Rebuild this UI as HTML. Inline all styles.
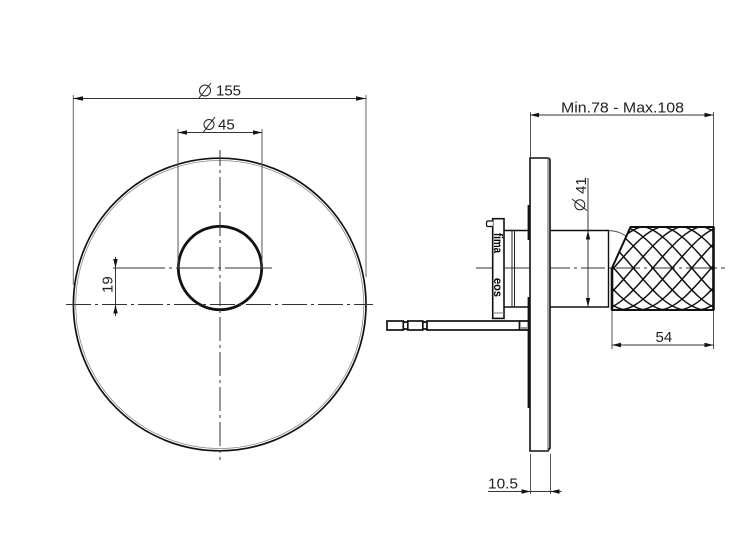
<!DOCTYPE html>
<html><head><meta charset="utf-8"><style>
html,body{margin:0;padding:0;background:#fff}
svg{display:block}
text{font-family:"Liberation Sans",sans-serif;font-size:15px;fill:#222}
</style></head><body>
<svg width="740" height="559" viewBox="0 0 740 559" xmlns="http://www.w3.org/2000/svg">
<defs><clipPath id="k"><path d="M612,268L630.5,227H713.5V310H612Z"/></clipPath></defs>
<rect width="740" height="559" fill="#fff"/>
<!-- front view -->
<circle cx="219.7" cy="304.5" r="146.3" fill="none" stroke="#111" stroke-width="1.7"/>
<circle cx="219.7" cy="304.5" r="144" fill="none" stroke="#888" stroke-width=".8"/>
<circle cx="220" cy="268" r="41.7" fill="none" stroke="#111" stroke-width="2.8"/>
<g fill="none" stroke="#333" stroke-width="1">
<path d="M220,150V460" stroke-dasharray="24 4 3 4" stroke-dashoffset="8"/>
<path d="M66,304.5H373" stroke-dasharray="25 4 3 4"/>
<path d="M113,268H272" stroke-dasharray="52 4 3 4 38 4 3 4 60"/>
<path d="M73.3,95V285M366,95V277" stroke="#666"/>
<path d="M73,98.5H366"/>
<path d="M178,129V268M262,129V268" stroke="#555"/>
<path d="M178,132.5H262"/>
<path d="M115.5,257V316"/>
<!-- side dims -->
<path d="M530.5,112V157M713.5,112V226" stroke="#555"/>
<path d="M530,115H713.5"/>
<path d="M588,178V307"/>
<path d="M612,310V349M713.5,310V349" stroke="#555"/>
<path d="M612,345H713.5"/>
<path d="M530.5,454V494M550.5,454V494" stroke="#555"/>
<path d="M488,491.5H561.5"/>
<path d="M476,268H725" stroke-dasharray="24 4 3 4"/>
</g>
<g fill="#111">
<path d="M73,98.5l10,-2.2v4.400zM366,98.5l-10,-2.2v4.400z"/>
<path d="M178,132.5l9,-2.2v4.400zM262,132.5l-9,-2.2v4.400z"/>
<path d="M115.5,268l-2.2,-9h4.400zM115.5,304.5l-2.2,9h4.400z"/>
<path d="M530,115l9,-2.2v4.400zM713.5,115l-9,-2.2v4.400z"/>
<path d="M588,230.5l-2.2,9h4.400zM588,307l-2.2,-9h4.400z"/>
<path d="M612,345l9,-2.2v4.400zM713.5,345l-9,-2.2v4.400z"/>
<path d="M530.5,491.5l-9,-2.2v4.400zM550.5,491.5l9,-2.2v4.400z"/>
</g>
<!-- plate -->
<path d="M530,158H547.5Q550,158 550,160.5V448L548,451H530Z" fill="#fff" stroke="#111" stroke-width="1.6"/>
<path d="M548,158V451" stroke="#555" fill="none"/>
<path d="M529,205V240M529,297V408" stroke="#111" stroke-width="2.8" fill="none"/>
<!-- hub -->
<path d="M504,230.5H529M504,307H529" stroke="#111" stroke-width="1.4" fill="none"/>
<path d="M512,230.5V307M514.5,230.5V307" stroke="#222" fill="none"/>
<rect x="492.7" y="218.7" width="11.3" height="99.7" fill="#fff" stroke="#111" stroke-width="1.6"/>
<path d="M493,313H504" stroke="#777" fill="none"/>
<path d="M493,221H488Q486.5,221 486.5,223V225Q486.5,226.500 488,226.500H492.700" fill="#fff" stroke="#111" stroke-width="1.200"/>
<path d="M476,268H492M504,268H530" stroke="#333" fill="none" stroke-dasharray="12 4 3 4"/>
<text transform="translate(494,233) rotate(90)" style="font-size:12px;font-weight:700;fill:#000" textLength="20" lengthAdjust="spacingAndGlyphs">fima</text>
<text transform="translate(494,278) rotate(90)" style="font-size:12px;font-weight:700;fill:#000" textLength="19" lengthAdjust="spacingAndGlyphs">eos</text>
<!-- rod -->
<g fill="#fff" stroke="#111" stroke-width="1.700">
<rect x="387" y="321" width="16.300" height="9"/>
<rect x="407.800" y="321" width="15" height="9"/>
<path d="M403.300,322H407.800M403.300,329H407.800M422.800,322H427M422.800,329H427" fill="none"/>
<rect x="427" y="321" width="92.500" height="9"/>
<path d="M519.500,321H529M519.500,330H529" fill="none"/>
</g>
<path d="M520,328H528" stroke="#999" stroke-width="2" fill="none"/>
<!-- stem -->
<path d="M550.500,230.500H608.500V307H550.500" fill="none" stroke="#111" stroke-width="1.400"/>
<path d="M608.500,230.500Q620,231 627,237" fill="none" stroke="#555" stroke-width="1"/>
<!-- knob -->
<g clip-path="url(#k)" fill="none" stroke="#111" stroke-width="1.500">
<path d="M521.800,226c35,0 71,84 106,84M541.300,226c35,0 71,84 106,84M560.800,226c35,0 71,84 106,84M580.300,226c35,0 71,84 106,84M599.800,226c35,0 71,84 106,84M619.300,226c35,0 71,84 106,84M638.800,226c35,0 71,84 106,84M658.300,226c35,0 71,84 106,84M677.800,226c35,0 71,84 106,84M697.300,226c35,0 71,84 106,84"/>
<path d="M521.800,310c35,0 71,-84 106,-84M541.300,310c35,0 71,-84 106,-84M560.800,310c35,0 71,-84 106,-84M580.300,310c35,0 71,-84 106,-84M599.800,310c35,0 71,-84 106,-84M619.300,310c35,0 71,-84 106,-84M638.800,310c35,0 71,-84 106,-84M658.300,310c35,0 71,-84 106,-84M677.800,310c35,0 71,-84 106,-84M697.300,310c35,0 71,-84 106,-84"/>
</g>
<path d="M612,268L630.500,227H713.500V310H612Z" fill="none" stroke="#111" stroke-width="2" stroke-linejoin="round"/>
<path d="M612,268V310M713.500,227V310" stroke="#111" stroke-width="2.600" fill="none"/>
<!-- diameter symbols -->
<g fill="none" stroke="#222" stroke-width="1">
<circle cx="205" cy="90.500" r="5.500"/><path d="M199,98L211,83"/>
<circle cx="209" cy="124.500" r="5"/><path d="M203.500,132L215,117"/>
<circle cx="579.800" cy="204.800" r="5"/><path d="M572,199L587,210.500"/>
</g>
<!-- labels -->
<text x="216" y="95.500" textLength="25" lengthAdjust="spacingAndGlyphs">155</text>
<text x="218" y="129.500">45</text>
<text x="561" y="112.500" textLength="123" lengthAdjust="spacingAndGlyphs">Min.78 - Max.108</text>
<text x="655.500" y="342">54</text>
<text x="488" y="488.500" textLength="30" lengthAdjust="spacingAndGlyphs">10.5</text>
<text transform="translate(112.500,293) rotate(-90)">19</text>
<text transform="translate(586,194) rotate(-90)">41</text>
</svg>
</body></html>
